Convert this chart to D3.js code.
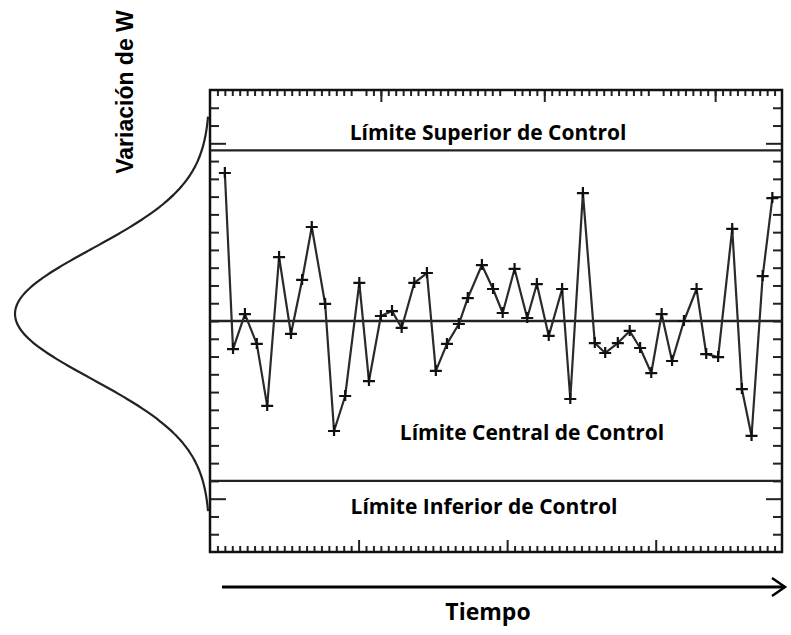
<!DOCTYPE html>
<html>
<head>
<meta charset="utf-8">
<script src="https://cdn.jsdelivr.net/npm/d3@7"></script>
<style>
body{margin:0;background:#fff;}
</style>
</head>
<body>
<div id="chart"></div>
<script>
// tiempo (in small tick units) and the measured variation of W
const tiempo = [2.0, 3.1, 4.7, 6.3, 7.7, 9.3, 10.9, 12.4, 13.7, 15.5,
  16.7, 18.2, 20.1, 21.4, 23.0, 24.5, 25.8, 27.5, 29.2, 30.4,
  31.9, 33.5, 34.7, 36.6, 38.1, 39.4, 41.0, 42.7, 44.0, 45.6,
  47.4, 48.5, 50.2, 51.8, 53.2, 54.9, 56.5, 57.9, 59.4, 60.8,
  62.2, 63.8, 65.5, 66.8, 68.4, 70.3, 71.6, 72.9, 74.4, 75.7];
const variacion = [8.33, -1.58, 0.39, -1.29, -4.78, 3.60, -0.73, 2.31, 5.29, 0.96,
  -6.19, -4.22, 2.14, -3.38, 0.28, 0.56, -0.39, 2.14, 2.70, -2.81,
  -1.29, -0.17, 1.29, 3.15, 1.80, 0.45, 2.93, 0.17, 2.08, -0.84,
  1.80, -4.39, 7.20, -1.24, -1.80, -1.24, -0.56, -1.52, -2.93, 0.39,
  -2.25, 0.00, 1.80, -1.86, -2.03, 5.18, -3.83, -6.47, 2.53, 6.92];

const limiteValores = [9.6, 0, -9.0];
const limiteNombres = ['Límite Superior de Control', 'Límite Central de Control', 'Límite Inferior de Control'];

// normal curve drawn at the left
const campanaMedia = 0.4;
const campanaSigma = 3.66;

const width = 791;
const height = 635;
const box = {left:210, right:782, top:90, bottom:552};

const svg = d3.select('#chart')
  .append('svg')
  .attr('width', width)
  .attr('height', height)
  .attr('viewBox', [0, 0, width, height]);

const x = d3.scaleLinear()
  .domain([0, 77])
  .range([box.left, box.right]);

const y = d3.scaleLinear()
  .domain([-13, 13])
  .range([box.bottom, box.top]);

const dens = d3.scaleLinear()
  .domain([0, 1])
  .range([box.left, 15]);

// ticks all round, pointing inward
const minorX = d3.range(1, 77).filter(d => d % 20 != 0);
const majorX = [20, 40, 60];
const minorY = d3.range(-12, 13).filter(d => Math.abs(d) != 10);
const majorY = [-10, 10];

function tickAxis(axis, scale, values, size, pos){
  svg.append('g')
    .attr('transform', pos)
    .call(axis(scale).tickValues(values).tickSize(size).tickFormat(''))
    .call(g => g.select('.domain').remove())
    .call(g => g.selectAll('line').attr('stroke', '#222').attr('stroke-width', 2));
}
tickAxis(d3.axisBottom, x, minorX, -6, `translate(0,${box.bottom})`);
tickAxis(d3.axisBottom, x, majorX, -12, `translate(0,${box.bottom})`);
tickAxis(d3.axisTop, x, minorX, -6, `translate(0,${box.top})`);
tickAxis(d3.axisTop, x, [23, 45, 68], -12, `translate(0,${box.top})`);
tickAxis(d3.axisLeft, y, minorY, -9, `translate(${box.left},0)`);
tickAxis(d3.axisLeft, y, majorY, -16, `translate(${box.left},0)`);
tickAxis(d3.axisRight, y, minorY, -9, `translate(${box.right},0)`);
tickAxis(d3.axisRight, y, majorY, -16, `translate(${box.right},0)`);

svg.append('rect')
  .attr('x', box.left)
  .attr('y', box.top)
  .attr('width', box.right - box.left)
  .attr('height', box.bottom - box.top)
  .attr('fill', 'none')
  .attr('stroke', '#111')
  .attr('stroke-width', 2.5);

// control limits
svg.append('g')
  .selectAll('line')
  .data(limiteValores)
  .join('line')
  .attr('x1', box.left)
  .attr('x2', box.right)
  .attr('y1', d => y(d))
  .attr('y2', d => y(d))
  .attr('stroke', '#222')
  .attr('stroke-width', 2.3);

const labelPos = [[488, 133], [532, 433], [484, 507]];
svg.append('g')
  .selectAll('text')
  .data(limiteNombres)
  .join('text')
  .attr('x', (d, i) => labelPos[i][0])
  .attr('y', (d, i) => labelPos[i][1])
  .attr('dy', '0.35em')
  .attr('text-anchor', 'middle')
  .attr('font-family', 'Open Sans, sans-serif')
  .attr('font-weight', 'bold')
  .attr('font-size', '21px')
  .attr('fill', '#000')
  .text(d => d);

// the series
const data = tiempo.map((t, i) => ({t: t, v: variacion[i]}));

svg.append('path')
  .datum(data)
  .attr('fill', 'none')
  .attr('stroke', '#2a2a2a')
  .attr('stroke-width', 2.2)
  .attr('stroke-linejoin', 'round')
  .attr('d', d3.line().x(d => x(d.t)).y(d => y(d.v)));

svg.append('g')
  .selectAll('path')
  .data(data)
  .join('path')
  .attr('transform', d => `translate(${x(d.t)},${y(d.v)})`)
  .attr('d', 'M-6,0H6M0,-6V5')
  .attr('stroke', '#111')
  .attr('stroke-width', 2.2);

// bell curve
const campana = d3.range(-11.1, 11.11, 0.1).map(k => ({
  v: campanaMedia + k,
  p: Math.exp(-(k * k) / (2 * campanaSigma * campanaSigma))
}));
svg.append('path')
  .datum(campana)
  .attr('fill', 'none')
  .attr('stroke', '#222')
  .attr('stroke-width', 2.2)
  .attr('d', d3.line().curve(d3.curveBasis).x(d => dens(d.p)).y(d => y(d.v)));

// axis titles
svg.append('text')
  .attr('transform', 'translate(133,92) rotate(-90)')
  .attr('text-anchor', 'middle')
  .attr('font-family', 'Liberation Sans, Arial, sans-serif')
  .attr('font-weight', 'bold')
  .attr('font-size', '23px')
  .text('Variación de W');

// time arrow
svg.append('line')
  .attr('x1', 222)
  .attr('x2', 785)
  .attr('y1', 587)
  .attr('y2', 587)
  .attr('stroke', '#000')
  .attr('stroke-width', 3);
svg.append('path')
  .attr('d', 'M772,578L785,587L772,596')
  .attr('fill', 'none')
  .attr('stroke', '#000')
  .attr('stroke-width', 2.5);

svg.append('text')
  .attr('x', 488)
  .attr('y', 612)
  .attr('dy', '0.35em')
  .attr('text-anchor', 'middle')
  .attr('font-family', 'Open Sans, sans-serif')
  .attr('font-weight', 'bold')
  .attr('font-size', '23px')
  .text('Tiempo');
</script>
</body>
</html>
